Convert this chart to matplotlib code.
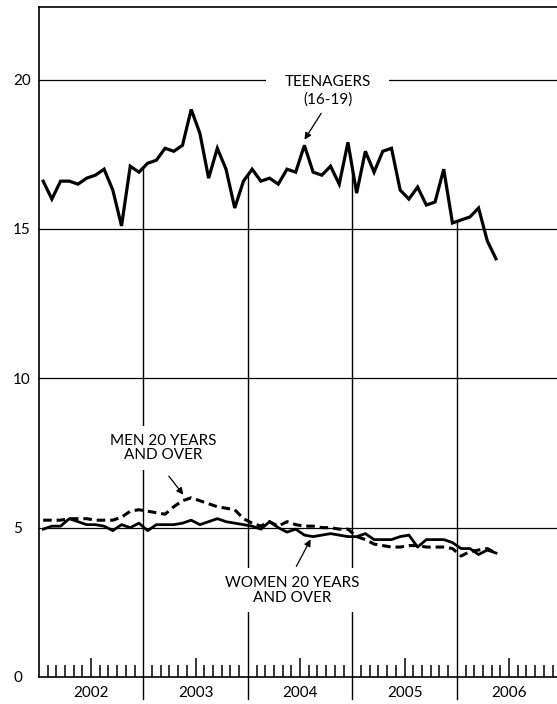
import numpy as np
import matplotlib.pyplot as plt

plt.rcParams['font.family'] = ['Lato', 'DejaVu Sans']

# monthly rates, Jan 2002 - May 2006 (percent)
teens = [16.6, 16.0, 16.6, 16.6, 16.5, 16.7, 16.8, 17.0, 16.3, 15.1, 17.1, 16.9,
         17.2, 17.3, 17.7, 17.6, 17.8, 19.0, 18.2, 16.7, 17.7, 17.0, 15.7, 16.6,
         17.0, 16.6, 16.7, 16.5, 17.0, 16.9, 17.8, 16.9, 16.8, 17.1, 16.5, 17.9,
         16.2, 17.6, 16.9, 17.6, 17.7, 16.3, 16.0, 16.4, 15.8, 15.9, 17.0, 15.2,
         15.3, 15.4, 15.7, 14.6, 14.0]
men = [5.25, 5.25, 5.25, 5.3, 5.3, 5.3, 5.25, 5.25, 5.25, 5.35, 5.55, 5.6,
       5.55, 5.5, 5.45, 5.7, 5.9, 6.0, 5.9, 5.8, 5.7, 5.65, 5.6, 5.3,
       5.15, 5.05, 5.2, 5.05, 5.2, 5.1, 5.05, 5.05, 5.0, 5.0, 4.95, 4.95,
       4.7, 4.6, 4.45, 4.4, 4.35, 4.35, 4.4, 4.4, 4.35, 4.35, 4.35, 4.3,
       4.05, 4.2, 4.25, 4.3, 4.15]
women = [4.95, 5.05, 5.05, 5.3, 5.2, 5.1, 5.1, 5.05, 4.9, 5.1, 5.0, 5.15,
         4.9, 5.1, 5.1, 5.1, 5.15, 5.25, 5.1, 5.2, 5.3, 5.2, 5.15, 5.1,
         5.05, 4.95, 5.2, 5.0, 4.85, 4.95, 4.75, 4.7, 4.75, 4.8, 4.75, 4.7,
         4.7, 4.8, 4.6, 4.6, 4.6, 4.7, 4.75, 4.35, 4.6, 4.6, 4.6, 4.5,
         4.3, 4.3, 4.1, 4.25, 4.15]
years = ['2002', '2003', '2004', '2005', '2006']
yticks = [0, 5, 10, 15, 20]

x = np.arange(len(teens)) + 0.5

fig = plt.figure(figsize=(5.57, 7.04), dpi=100)
ax = fig.add_axes([38.8/557, 1 - 677/704, 522.5/557, 670/704])
ax.set_xlim(0, 60)
ax.set_ylim(0, 22.43)

for s in ['top', 'left', 'bottom']:
    ax.spines[s].set_linewidth(1.2)
ax.spines['right'].set_visible(False)

for v in yticks[1:]:
    ax.axhline(v, color='black', lw=0.9, zorder=1)

# year boundary lines run from below the axis up to the teen line
for k in range(1, len(years)):
    m = 12 * k
    top = np.interp(m, x, teens)
    ax.plot([m, m], [-0.74, top], color='black', lw=1.0, clip_on=False, zorder=1)

ax.plot(x, teens, color='black', lw=2.3, zorder=3, solid_joinstyle='miter')
ax.plot(x, men, color='black', lw=2.2, ls=(0, (2.8, 1.6)), zorder=3)
ax.plot(x, women, color='black', lw=2.0, zorder=3)

# month ticks, longer at mid-year
mids = [m for m in range(1, 60) if m % 12 == 6]
others = [m for m in range(1, 60) if m % 12 not in (0, 6)]
ax.set_xticks(mids)
ax.set_xticks(others, minor=True)
ax.set_xticklabels([])
ax.tick_params(axis='x', which='major', direction='in', length=13.5, width=1.1)
ax.tick_params(axis='x', which='minor', direction='in', length=8.5, width=1.1)
ax.set_yticks(yticks)
ax.set_yticklabels([str(v) for v in yticks], fontsize=11, ha='left')
ax.tick_params(axis='y', length=0, pad=18.5)

for i, yr in enumerate(years):
    ax.text(12 * i + 6, -0.55, yr, ha='center', va='center', fontsize=11, clip_on=False)

arrow = dict(arrowstyle='-|>', color='black', lw=0.9, mutation_scale=10)

ax.text(33.2, 19.92, 'TEENAGERS', ha='center', va='center', fontsize=11, zorder=5,
        bbox=dict(facecolor='white', edgecolor='none', boxstyle='square,pad=1.2'))
ax.text(33.2, 19.32, '(16-19)', ha='center', va='center', fontsize=11, zorder=6)
ax.annotate('', xy=(30.34, 17.91), xytext=(32.6, 18.95), arrowprops=arrow, zorder=6)

ax.text(14.26, 7.67, 'MEN 20 YEARS\nAND OVER', ha='center', va='center', fontsize=11,
        linespacing=1.05, zorder=5,
        bbox=dict(facecolor='white', edgecolor='none', boxstyle='square,pad=0.5'))
ax.annotate('', xy=(16.79, 6.03), xytext=(14.73, 6.80), arrowprops=arrow, zorder=6)

ax.text(29.08, 2.90, 'WOMEN 20 YEARS\nAND OVER', ha='center', va='center', fontsize=11,
        linespacing=1.05, zorder=5,
        bbox=dict(facecolor='white', edgecolor='none', boxstyle='square,pad=0.5'))
ax.annotate('', xy=(31.37, 4.69), xytext=(29.42, 3.62), arrowprops=arrow, zorder=6)

fig.savefig('out.png', dpi=100)
